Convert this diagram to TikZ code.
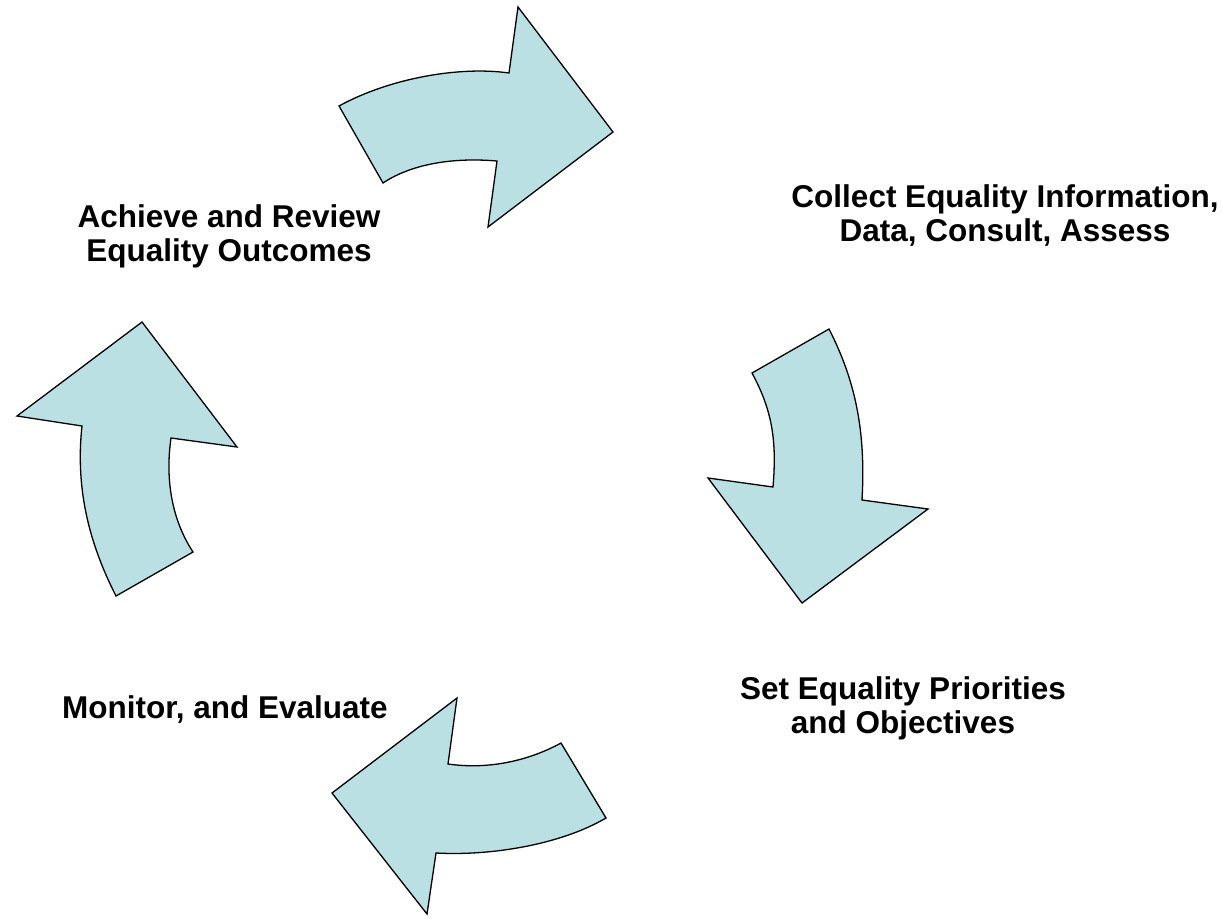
\documentclass[tikz,border=0pt]{standalone}
\usepackage{fontspec}
\setmainfont{Liberation Sans}
\definecolor{arrowfill}{RGB}{187,224,227}
\begin{document}
\begin{tikzpicture}[x=1pt,y=-1pt,
  cyclearrow/.style={fill=arrowfill,draw=black,line width=1.3pt,line join=miter},
  steplabel/.style={font=\bfseries\fontsize{31.5}{34}\selectfont,align=center,inner sep=0pt}]
\useasboundingbox (0,0) rectangle (1223,918);
% top arrow (pointing right)
\draw[cyclearrow] (339,106) .. controls (390,78) and (460,66) .. (509,73)
  -- (518,7) -- (613,132) -- (488,227) -- (497,161)
  .. controls (450,157) and (410,165) .. (383,183) -- cycle;
% right arrow (pointing down)
\draw[cyclearrow] (829,329) .. controls (855,380) and (866,430) .. (862,500)
  -- (928,509) -- (802,603) -- (708,478) -- (773,487)
  .. controls (777,440) and (772,410) .. (752,373) -- cycle;
% bottom arrow (pointing left)
\draw[cyclearrow] (606,818) .. controls (560,845) and (490,856) .. (436,853)
  -- (427,914) -- (332,793) -- (457,698) -- (448,764)
  .. controls (490,770) and (530,760) .. (561,743) -- cycle;
% left arrow (pointing up)
\draw[cyclearrow] (116,596) .. controls (90,545) and (75,490) .. (82,426)
  -- (17,416) -- (142,322) -- (237,447) -- (171,438)
  .. controls (165,480) and (172,520) .. (193,552) -- cycle;
\node[steplabel] (ach) at (229,236) {Achieve and Review\\Equality Outcomes};
\node[steplabel] (col) at (1005,216) {Collect Equality Information,\\Data, Consult, Assess};
\node[steplabel,anchor=base west] (mon) at (62,718) {Monitor, and Evaluate};
\node[steplabel] (set) at (903,708) {Set Equality Priorities\\and Objectives};
\end{tikzpicture}
\end{document}
